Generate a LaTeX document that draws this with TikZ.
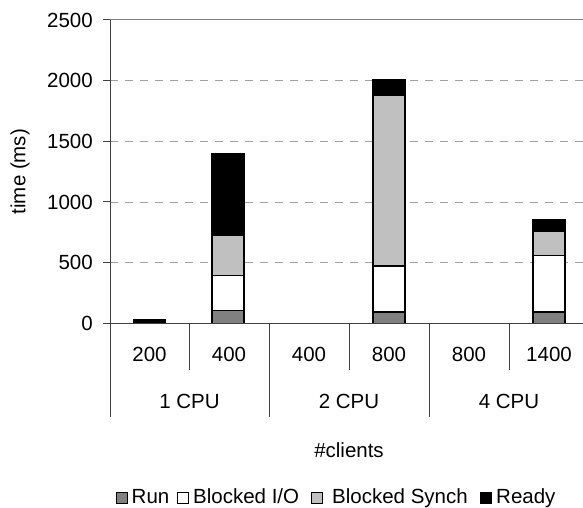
\documentclass[tikz,border=0pt]{standalone}
\usepackage{fontspec}
\setmainfont{Liberation Sans}
\definecolor{runc}{HTML}{808080}
\definecolor{syncc}{HTML}{C0C0C0}
\definecolor{gridc}{HTML}{A0A0A0}
\newcommand\stackbar[5]{%
  \draw[bar, fill=runc]  (#1-16,0)  rectangle (#1+16,#2);
  \draw[bar, fill=white] (#1-16,#2) rectangle (#1+16,#3);
  \draw[bar, fill=syncc] (#1-16,#3) rectangle (#1+16,#4);
  \draw[bar, fill=black] (#1-16,#4) rectangle (#1+16,#5);
}
\begin{document}
\begin{tikzpicture}[x=1pt,y=-1pt,
  lbl/.style={font=\fontsize{20.5}{24}\selectfont, inner sep=0pt},
  bar/.style={draw=black, line width=1.4pt},
  gridline/.style={draw=gridc, line width=0.9pt, dash pattern=on 8pt off 7pt},
  axisline/.style={draw=black!75, line width=1pt},
  keybox/.style={draw=black, line width=0.8pt}]
\useasboundingbox (0,0) rectangle (583,507);

% value axis, grid and bars (values in ms)
\begin{scope}[shift={(0,323.3)}, y=0.12132pt]
  \foreach \v in {500,1000,1500,2000}
    \draw[gridline] (110,\v) -- (583,\v);
  \draw[draw=gray, line width=1pt] (110,2500) -- (583,2500);
  \foreach \v in {0,500,...,2500}{
    \draw[axisline] (103,\v) -- (110,\v);
    \node[lbl, anchor=east] (y\v) at (93,\v) {\v};
  }
  % 1 CPU
  \draw[bar, fill=black] (133.5,0) rectangle (165.5,33);
  \stackbar{228}{107}{392}{728}{1396}
  % 2 CPU
  \stackbar{389}{93}{472}{1882}{2010}
  % 4 CPU
  \stackbar{549}{93}{557}{761}{852}
\end{scope}

% category axis
\draw[axisline] (110,20) -- (110,417);
\draw[axisline] (110,323.3) -- (583,323.3);
\foreach \x in {189.5,349,509}
  \draw[axisline] (\x,323.3) -- (\x,370);
\foreach \x in {269,429}
  \draw[axisline] (\x,323.3) -- (\x,417);

\node[lbl] (c1) at (149.5,354) {200};
\node[lbl] (c2) at (229,354) {400};
\node[lbl] (c3) at (309,354) {400};
\node[lbl] (c4) at (389,354) {800};
\node[lbl] (c5) at (469,354) {800};
\node[lbl] (c6) at (549,354) {1400};
\node[lbl] (g1) at (189.5,401) {1 CPU};
\node[lbl] (g2) at (349,401) {2 CPU};
\node[lbl] (g3) at (509,401) {4 CPU};

\node[lbl, rotate=90] (ytitle) at (20,171.6) {time (ms)};
\node[lbl] (xtitle) at (349,450) {\#clients};

% legend
\draw[keybox, fill=runc]  (116,492) rectangle (127,503);
\node[lbl, anchor=base west] (kRun) at (131.5,503) {Run};
\draw[keybox, fill=white] (177.5,492) rectangle (188.5,503);
\node[lbl, anchor=base west] (kIO) at (193,503) {Blocked I/O};
\draw[keybox, fill=syncc] (311,492) rectangle (322,503);
\node[lbl, anchor=base west] (kSync) at (332,503) {Blocked Synch};
\draw[keybox, fill=black] (480,492) rectangle (491,503);
\node[lbl, anchor=base west] (kReady) at (496,503) {Ready};
\end{tikzpicture}
\end{document}
